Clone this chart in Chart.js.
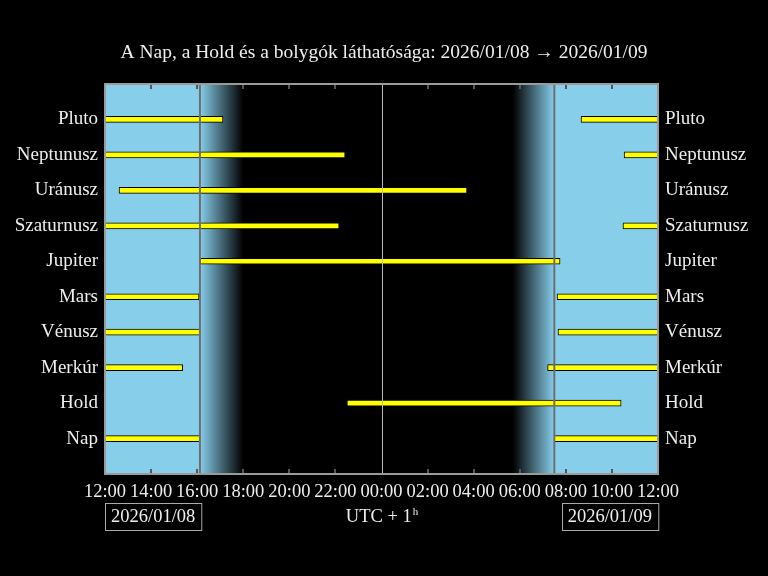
<!DOCTYPE html>
<html>
<head>
<meta charset="utf-8">
<script src="https://cdn.jsdelivr.net/npm/chart.js@4.4.1/dist/chart.umd.min.js"></script>
<style>
  html, body { margin: 0; padding: 0; background: #000; }
  canvas { display: block; }
</style>
</head>
<body>
<canvas id="lathatosag" width="768" height="576"></canvas>
<script>
// Órák 2026/01/08 12:00 óta (0 = 12:00, 24 = másnap 12:00)
const egitestek = ["Pluto", "Neptunusz", "Uránusz", "Szaturnusz", "Jupiter", "Mars", "Vénusz", "Merkúr", "Hold", "Nap"];
const elsoKezdet = [0, 0, 0.61, 0, 4.12, 0, 0, 0, 10.5, 0];
const elsoVege = [5.12, 10.42, 15.71, 10.16, 19.75, 4.08, 4.12, 3.37, 22.4, 4.12];
const masodikKezdet = [20.66, 22.53, null, 22.48, null, 19.62, 19.66, 19.21, null, 19.5];
const masodikVege = [24, 24, null, 24, null, 24, 24, 24, null, 24];

// napnyugta, szürkület vége, hajnal kezdete, napkelte
const napnyugta = 4.12;
const szurkuletVege = 6.0;
const hajnal = 17.7;
const napkelte = 19.5;
const ejfel = 12;

const oraCimkek = ["12:00", "14:00", "16:00", "18:00", "20:00", "22:00", "00:00", "02:00", "04:00", "06:00", "08:00", "10:00", "12:00"];
const datumok = ["2026/01/08", "2026/01/09"];
const cim = "A Nap, a Hold és a bolygók láthatósága: 2026/01/08 \u2192 2026/01/09";

const BETU = "'Liberation Serif', 'DejaVu Serif', serif";
const SZOVEG = "#eeeeee";
const EG = "#87ceeb";

// üres címke a két szélén, hogy a sorok 1..10 helyre essenek
const tengelyCimkek = [""].concat(egitestek, [""]);

function szakaszok(kezd, veg) {
  const out = [];
  egitestek.forEach((nev, i) => {
    if (kezd[i] !== null) out.push({ y: nev, x: [kezd[i], veg[i]] });
  });
  return out;
}

function sav(adat) {
  return {
    data: adat,
    backgroundColor: "#ffff00",
    borderColor: "#000000",
    borderWidth: 1,
    borderSkipped: false,
    barThickness: 6,
    grouped: false,
    yAxisID: "y",
  };
}

const hatter = {
  id: "hatter",
  beforeDatasetsDraw(chart) {
    const { ctx, chartArea: a, scales: { x } } = chart;
    const px = (v) => x.getPixelForValue(v);
    ctx.save();
    ctx.fillStyle = "#000";
    ctx.fillRect(a.left, a.top, a.width, a.height);
    ctx.fillStyle = EG;
    ctx.fillRect(px(0), a.top, px(napnyugta) - px(0), a.height);
    ctx.fillRect(px(napkelte), a.top, px(24) - px(napkelte), a.height);
    let g = ctx.createLinearGradient(px(napnyugta), 0, px(szurkuletVege), 0);
    g.addColorStop(0, EG);
    g.addColorStop(1, "#000");
    ctx.fillStyle = g;
    ctx.fillRect(px(napnyugta), a.top, px(szurkuletVege) - px(napnyugta), a.height);
    g = ctx.createLinearGradient(px(hajnal), 0, px(napkelte), 0);
    g.addColorStop(0, "#000");
    g.addColorStop(1, EG);
    ctx.fillStyle = g;
    ctx.fillRect(px(hajnal), a.top, px(napkelte) - px(hajnal), a.height);
    ctx.restore();
  },
  afterDatasetsDraw(chart) {
    const { ctx, chartArea: a, scales: { x } } = chart;
    const px = (v) => x.getPixelForValue(v);
    ctx.save();
    ctx.lineWidth = 2;
    ctx.strokeStyle = "#6e6e6e";
    [napnyugta, napkelte].forEach((v) => {
      ctx.beginPath();
      ctx.moveTo(px(v), a.top);
      ctx.lineTo(px(v), a.bottom);
      ctx.stroke();
    });
    ctx.lineWidth = 1;
    ctx.strokeStyle = "#bbbbbb";
    ctx.beginPath();
    ctx.moveTo(Math.round(px(ejfel)) + 0.5, a.top);
    ctx.lineTo(Math.round(px(ejfel)) + 0.5, a.bottom);
    ctx.stroke();
    // befelé mutató osztásjelek fent és lent
    ctx.strokeStyle = "#555";
    ctx.lineWidth = 2;
    for (let v = 2; v < 24; v += 2) {
      if (v === ejfel) continue;
      const xx = Math.round(px(v));
      ctx.beginPath();
      ctx.moveTo(xx, a.top);
      ctx.lineTo(xx, a.top + 5);
      ctx.moveTo(xx, a.bottom);
      ctx.lineTo(xx, a.bottom - 5);
      ctx.stroke();
    }
    ctx.strokeStyle = "#9a9a9a";
    ctx.lineWidth = 2;
    ctx.strokeRect(a.left, a.top, a.width, a.height);
    ctx.restore();
  },
  afterDraw(chart) {
    const { ctx, chartArea: a } = chart;
    ctx.save();
    ctx.font = "18.5px " + BETU;
    ctx.fillStyle = SZOVEG;
    ctx.strokeStyle = "#aaaaaa";
    ctx.lineWidth = 1;
    ctx.textBaseline = "middle";
    ctx.textAlign = "center";
    const y0 = 503, h = 27;
    const w1 = ctx.measureText(datumok[0]).width + 12;
    ctx.strokeRect(Math.round(a.left) + 0.5, y0 + 0.5, w1, h);
    ctx.fillText(datumok[0], a.left + w1 / 2, y0 + h / 2 + 1);
    const w2 = ctx.measureText(datumok[1]).width + 12;
    ctx.strokeRect(Math.round(a.right - w2) + 0.5, y0 + 0.5, w2, h);
    ctx.fillText(datumok[1], a.right - w2 / 2, y0 + h / 2 + 1);
    // UTC + 1^h
    const fo = "UTC + 1";
    ctx.textAlign = "left";
    const fw = ctx.measureText(fo).width;
    ctx.font = "11px " + BETU;
    const hw = ctx.measureText("h").width;
    const kx = (a.left + a.right) / 2 - (fw + hw) / 2;
    ctx.fillText("h", kx + fw + 1, y0 + h / 2 - 4);
    ctx.font = "18.5px " + BETU;
    ctx.fillText(fo, kx, y0 + h / 2 + 1);
    ctx.restore();
  },
};

function yTengely(hely, szelesseg) {
  return {
    type: "category",
    labels: tengelyCimkek,
    position: hely,
    offset: false,
    grid: { display: false, drawTicks: false },
    border: { display: false },
    ticks: { color: SZOVEG, font: { family: BETU, size: 19 }, padding: 7, autoSkip: false },
    afterFit(s) { s.width = szelesseg; },
  };
}

new Chart(document.getElementById("lathatosag"), {
  type: "bar",
  data: {
    datasets: [sav(szakaszok(elsoKezdet, elsoVege)), sav(szakaszok(masodikKezdet, masodikVege))],
  },
  options: {
    responsive: false,
    animation: false,
    devicePixelRatio: 1,
    indexAxis: "y",
    layout: { padding: 0 },
    scales: {
      x: {
        type: "linear",
        min: 0,
        max: 24,
        grid: { display: false, drawTicks: false },
        border: { display: false },
        ticks: {
          stepSize: 2,
          autoSkip: false,
          maxRotation: 0,
          padding: 7,
          color: SZOVEG,
          font: { family: BETU, size: 18.5 },
          callback: (v) => oraCimkek[v / 2],
        },
        afterFit(s) { s.height = 102; },
      },
      y: yTengely("left", 105),
      y2: yTengely("right", 110),
    },
    plugins: {
      legend: { display: false },
      tooltip: { enabled: false },
      title: {
        display: true,
        text: cim,
        color: SZOVEG,
        font: { family: BETU, size: 19.5, weight: "normal" },
        padding: { top: 41, bottom: 19.6 },
      },
    },
  },
  plugins: [hatter],
});
</script>
</body>
</html>
